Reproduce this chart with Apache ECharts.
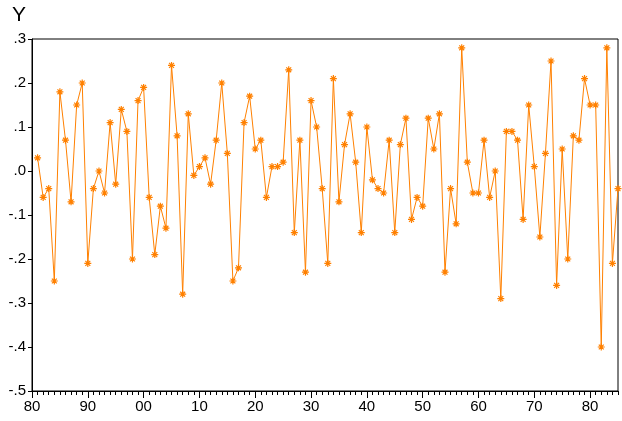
<!DOCTYPE html>
<html><head><meta charset="utf-8">
<script src="https://cdn.jsdelivr.net/npm/echarts@6/dist/echarts.min.js"></script>
<style>html,body{margin:0;padding:0;background:#fff}#c{width:622px;height:421px}</style>
</head><body><div id="c"></div>
<script>
const firstYear = 1981;
const yValues = [
  0.03, -0.06, -0.04, -0.25, 0.18, 0.07, -0.07, 0.15, 0.20, -0.21,
  -0.04, 0.00, -0.05, 0.11, -0.03, 0.14, 0.09, -0.20, 0.16, 0.19,
  -0.06, -0.19, -0.08, -0.13, 0.24, 0.08, -0.28, 0.13, -0.01, 0.01,
  0.03, -0.03, 0.07, 0.20, 0.04, -0.25, -0.22, 0.11, 0.17, 0.05,
  0.07, -0.06, 0.01, 0.01, 0.02, 0.23, -0.14, 0.07, -0.23, 0.16,
  0.10, -0.04, -0.21, 0.21, -0.07, 0.06, 0.13, 0.02, -0.14, 0.10,
  -0.02, -0.04, -0.05, 0.07, -0.14, 0.06, 0.12, -0.11, -0.06, -0.08,
  0.12, 0.05, 0.13, -0.23, -0.04, -0.12, 0.28, 0.02, -0.05, -0.05,
  0.07, -0.06, 0.00, -0.29, 0.09, 0.09, 0.07, -0.11, 0.15, 0.01,
  -0.15, 0.04, 0.25, -0.26, 0.05, -0.20, 0.08, 0.07, 0.21, 0.15,
  0.15, -0.40, 0.28, -0.21, -0.04
];
const seriesName = 'Y';
const xMin = 1980, xMax = 2085, yMin = -0.5, yMax = 0.3;

const data = yValues.map((v, i) => [firstYear + i, v]);
const orange = '#FF8000';
const star = 'path://M0,5L10,5M5,0L5,10M1.5,1.5L8.5,8.5M8.5,1.5L1.5,8.5';
const chart = echarts.init(document.getElementById('c'));
chart.setOption({
  animation: false,
  title: { text: seriesName, left: 7, top: 0, textStyle: { fontFamily: 'Liberation Sans', fontSize: 21, fontWeight: 'normal', color: '#000' } },
  grid: { left: 32, top: 39, right: 4, bottom: 30, show: true, borderColor: '#000', borderWidth: 1, backgroundColor: 'transparent' },
  xAxis: [{
    type: 'value', min: xMin, max: xMax, interval: 10,
    axisLine: { show: true, onZero: false, lineStyle: { color: '#000', width: 1 } },
    axisTick: { show: true, length: 7, lineStyle: { color: '#000' } },
    axisLabel: { showMaxLabel: false, margin: 8, fontFamily: 'Liberation Sans', fontSize: 15, color: '#000',
      formatter: v => String(v % 100).padStart(2, '0') },
    splitLine: { show: false }
  }, {
    type: 'value', min: xMin, max: xMax, interval: 1, position: 'bottom',
    axisLine: { show: false, onZero: false },
    axisTick: { show: true, length: 4, lineStyle: { color: '#000' } },
    axisLabel: { show: false }, splitLine: { show: false }
  }],
  yAxis: {
    type: 'value', min: yMin, max: yMax, interval: 0.1,
    axisLine: { show: true, onZero: false, lineStyle: { color: '#000', width: 1 } },
    axisTick: { show: true, length: 4, lineStyle: { color: '#000' } },
    axisLabel: { margin: 6, fontFamily: 'Liberation Sans', fontSize: 15, color: '#000',
      formatter: v => v.toFixed(1).replace('0.', '.') },
    splitLine: { show: false }
  },
  series: [{
    name: seriesName, type: 'line', data: data, xAxisIndex: 0,
    symbol: star, symbolSize: 7, showAllSymbol: true,
    lineStyle: { color: orange, width: 1 },
    itemStyle: { color: orange, borderColor: orange, borderWidth: 1.2 },
    emphasis: { disabled: true }
  }]
});
</script></body></html>
